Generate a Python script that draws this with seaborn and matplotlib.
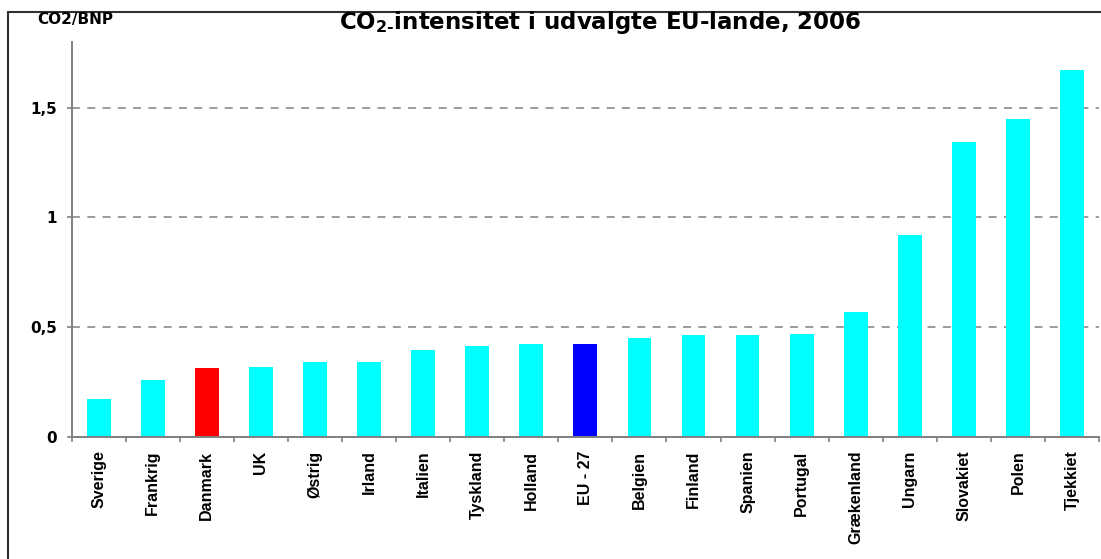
import matplotlib
matplotlib.use("Agg")
import matplotlib.pyplot as plt
from matplotlib import font_manager
from matplotlib.lines import Line2D
from matplotlib.ticker import FixedLocator
import seaborn as sns
import pandas as pd
import numpy as np

# ---- data ----
countries = ["Sverige", "Frankrig", "Danmark", "UK", "Østrig", "Irland", "Italien",
             "Tyskland", "Holland", "EU - 27", "Belgien", "Finland", "Spanien",
             "Portugal", "Grækenland", "Ungarn", "Slovakiet", "Polen", "Tjekkiet"]
values = [0.171, 0.258, 0.312, 0.317, 0.339, 0.339, 0.394, 0.412, 0.421, 0.421,
          0.448, 0.462, 0.462, 0.467, 0.567, 0.921, 1.344, 1.449, 1.671]
ytick_values = [0, 0.5, 1, 1.5]
ytick_labels = ["0", "0,5", "1", "1,5"]
title_text = "CO$_{\\mathbf{2\u2010}}$intensitet i udvalgte EU-lande, 2006"
unit_text = "CO2/BNP"

# ---- style ----
sns.set_theme(style="white")
plt.rcParams['font.family'] = ['DejaVu Sans']
plt.rcParams['mathtext.fontset'] = 'dejavusans'

names = {f.name for f in font_manager.fontManager.ttflist}
if 'Liberation Sans Narrow' in names:
    xfont, xsize = 'Liberation Sans Narrow', 14
else:
    xfont, xsize = 'Liberation Sans', 11.5

W, H = 1101, 559
fig = plt.figure(figsize=(W / 100, H / 100), dpi=100)
fig.patch.set_facecolor('white')
left, right, top, bottom = 71.7, 1099, 41.7, 436.7
ax = fig.add_axes([left / W, 1 - bottom / H, (right - left) / W, (bottom - top) / H])

df = pd.DataFrame({"land": countries, "co2": values})
palette = {c: "#00FFFF" for c in countries}
palette["Danmark"] = "#FF0000"
palette["EU - 27"] = "#0000FF"

sns.barplot(data=df, x="land", y="co2", hue="land", palette=palette,
            width=0.44, saturation=1, legend=False, linewidth=0, ax=ax)

ax.set_xlim(-0.5, len(countries) - 0.5)
ax.set_ylim(0, 1.8)
ax.set_xlabel("")
ax.set_ylabel("")

gray = "#808080"
ax.set_axisbelow(True)
ax.set_yticks(ytick_values)
ax.set_yticklabels(ytick_labels)
ax.yaxis.grid(True, color=gray, linewidth=1.1, linestyle=(0, (5.2, 4.8)))
ax.xaxis.grid(False)

for s in ["top", "right"]:
    ax.spines[s].set_visible(False)
for s in ["left", "bottom"]:
    ax.spines[s].set_color(gray)
    ax.spines[s].set_linewidth(1.4)
    ax.spines[s].set_zorder(3)

ax.tick_params(axis="y", which="major", left=True, length=3.6, width=1.2,
               color=gray, pad=6.8, direction="out", labelsize=11, labelcolor="black")
for lbl in ax.get_yticklabels():
    lbl.set_fontweight("bold")
    lbl.set_family("DejaVu Sans")

ax.xaxis.set_minor_locator(FixedLocator(np.arange(-0.5, len(countries), 1.0)))
ax.tick_params(axis="x", which="minor", bottom=True, length=3.6, width=1.2,
               color=gray, direction="out")
ax.tick_params(axis="x", which="major", bottom=True, length=0, pad=10,
               labelcolor="black")
for lbl in ax.get_xticklabels():
    lbl.set_rotation(90)
    lbl.set_fontweight("bold")
    lbl.set_family(xfont)
    lbl.set_fontsize(xsize)
    lbl.set_ha("center")
    lbl.set_va("top")

# outer frame (top and left edges visible)
fx = 7.5 / W
fy = 1 - 11.7 / H
fig.add_artist(Line2D([fx, 1.01], [fy, fy], transform=fig.transFigure,
                      color="#303030", linewidth=1.5))
fig.add_artist(Line2D([fx, fx], [-0.01, fy], transform=fig.transFigure,
                      color="#303030", linewidth=1.5))

fig.text(600 / W, 1 - 29.3 / H, title_text, ha="center", va="baseline",
         fontsize=16.5, fontweight="bold", family="DejaVu Sans", color="black")
fig.text(75.5 / W, 1 - 24 / H, unit_text, ha="center", va="baseline",
         fontsize=11, fontweight="bold", family="DejaVu Sans", color="black")

fig.savefig("out.png", dpi=100, facecolor="white")
